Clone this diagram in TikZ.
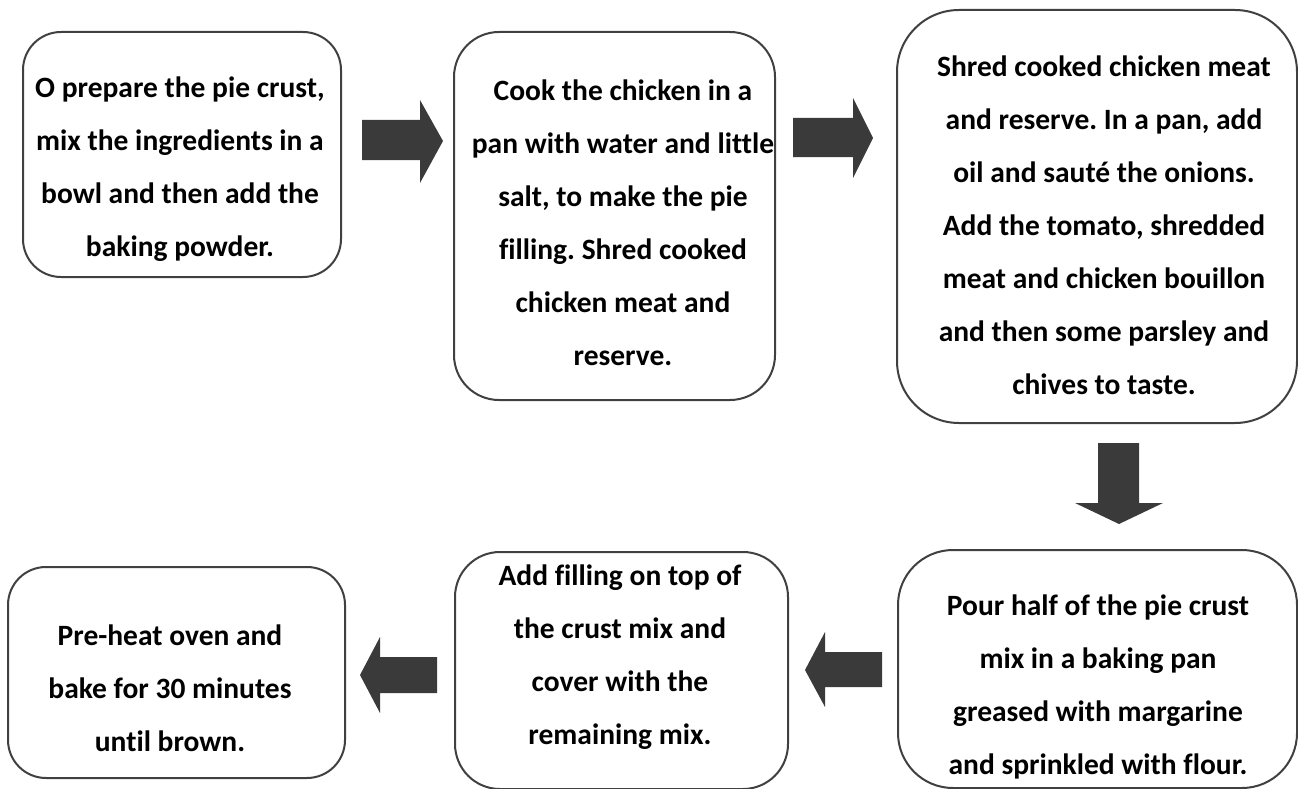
\documentclass[tikz,border=0pt]{standalone}
\usepackage{fontspec}
\setmainfont{Carlito}[Ligatures=NoCommon]
\frenchspacing
\definecolor{edge}{HTML}{404040}
\definecolor{arrowfill}{HTML}{3A3A3A}
\tikzset{
  stepbox/.style={draw=edge, line width=2pt, fill=white, inner sep=0pt, outer sep=0pt},
  steptext/.style={align=center, inner sep=0pt, font=\bfseries\fontsize{29.5}{53}\selectfont},
  blockarrow/.style={fill=arrowfill, draw=none}
}
\begin{document}
\begin{tikzpicture}[x=1pt,y=-1pt]
\useasboundingbox (0,0) rectangle (1298,789);
% boxes
\node[stepbox, rounded corners=38pt, minimum width=318pt, minimum height=245pt] (b1) at (182,154.5) {};
\node[stepbox, rounded corners=45pt, minimum width=321pt, minimum height=368pt] (b2) at (614.5,216) {};
\node[stepbox, rounded corners=62pt, minimum width=400pt, minimum height=413pt] (b3) at (1097,216.5) {};
\node[stepbox, rounded corners=55pt, minimum width=399pt, minimum height=238pt] (b4) at (1097.5,669) {};
\node[stepbox, rounded corners=45pt, minimum width=333pt, minimum height=237pt] (b5) at (621.5,670.5) {};
\node[stepbox, rounded corners=38pt, minimum width=337pt, minimum height=211pt] (b6) at (176.5,672.5) {};
% texts
\node[steptext] (t1) at (180,169) {O prepare the pie crust,\\mix the ingredients in a\\bowl and then add the\\baking powder.};
\node[steptext] (t2) at (623,223) {Cook the chicken in a\\pan with water and little\\salt, to make the pie\\filling. Shred cooked\\chicken meat and\\reserve.};
\node[steptext] (t3) at (1104,225) {Shred cooked chicken meat\\and reserve. In a pan, add\\oil and sauté the onions.\\Add the tomato, shredded\\meat and chicken bouillon\\and then some parsley and\\chives to taste.};
\node[steptext] (t4) at (1098,687) {Pour half of the pie crust\\mix in a baking pan\\greased with margarine\\and sprinkled with flour.};
\node[steptext] (t5) at (620,657) {Add filling on top of\\the crust mix and\\cover with the\\remaining mix.};
\node[steptext] (t6) at (170,688) {Pre-heat oven and\\bake for 30 minutes\\until brown.};
% block arrows
\fill[blockarrow] (362,120) -- (420,120) -- (420,100) -- (443,141) -- (420,183) -- (420,160) -- (362,160) -- cycle;
\fill[blockarrow] (793,118) -- (853,118) -- (853,98) -- (873,138) -- (853,178) -- (853,157) -- (793,157) -- cycle;
\fill[blockarrow] (1098,443) -- (1139,443) -- (1139,503) -- (1163,503) -- (1119,524) -- (1075,503) -- (1098,503) -- cycle;
\fill[blockarrow] (805,670) -- (825,632) -- (825,652) -- (882,652) -- (882,687) -- (825,687) -- (825,707) -- cycle;
\fill[blockarrow] (360,675) -- (380,637) -- (380,657) -- (437,657) -- (437,693) -- (380,693) -- (380,713) -- cycle;
\end{tikzpicture}
\end{document}
